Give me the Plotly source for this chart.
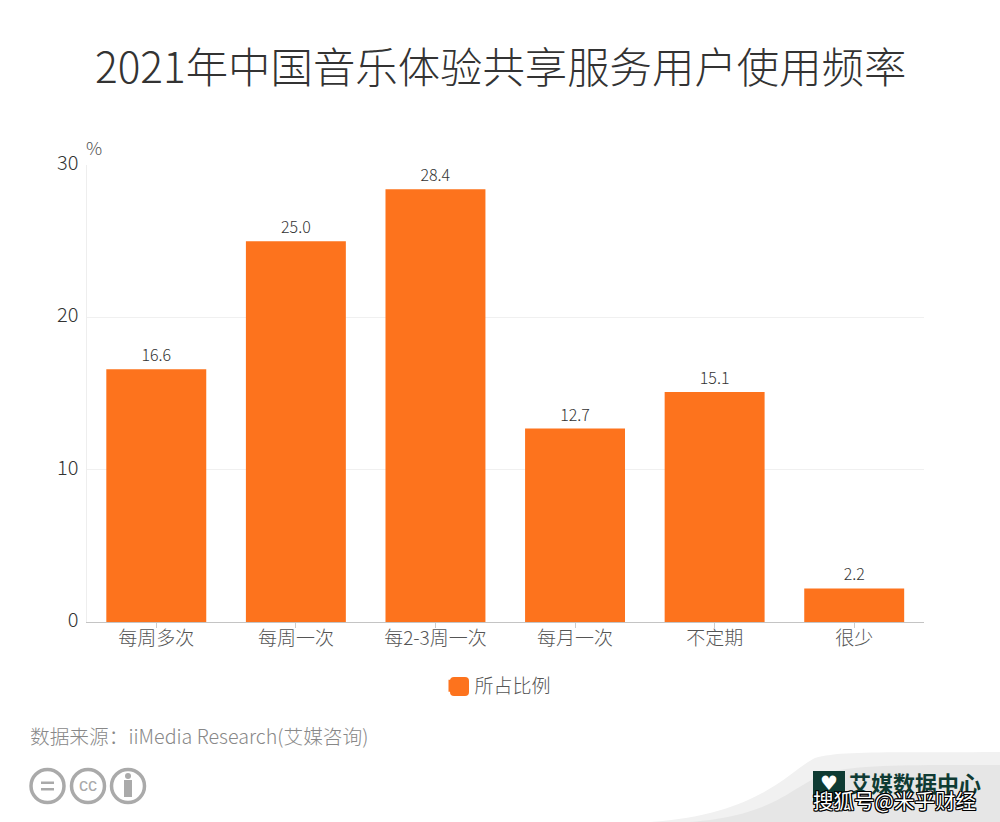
import plotly.graph_objects as go

categories = ["每周多次", "每周一次", "每2-3周一次", "每月一次", "不定期", "很少"]
values = [16.6, 25.0, 28.4, 12.7, 15.1, 2.2]
labels = ["16.6", "25.0", "28.4", "12.7", "15.1", "2.2"]
y_ticks = [0, 10, 20, 30]
series_name = "所占比例"
title = "2021年中国音乐体验共享服务用户使用频率"
source = "数据来源：iiMedia Research(艾媒咨询)"

W, H = 1000, 822
FONT = "Noto Sans CJK SC, Noto Sans, sans-serif"
ORANGE = "#fd731d"
def X(p): return p / W
def Y(p): return 1 - p / H

fig = go.Figure(go.Bar(
    x=categories, y=values, name=series_name, text=labels,
    marker=dict(color=ORANGE, line=dict(width=0)),
    textposition="outside", cliponaxis=False,
    textfont=dict(size=16, color="#333333", family=FONT, weight=300),
    showlegend=True,
))

shapes = [
    # grey corner swoosh
    dict(type="path", xref="paper", yref="paper", layer="below",
         path=f"M {X(650)} {Y(822)} C {X(760)} {Y(815)}, {X(790)} {Y(770)}, {X(815)} {Y(758)} "
              f"C {X(840)} {Y(750)}, {X(900)} {Y(753)}, {X(1000)} {Y(752)} L {X(1000)} {Y(822)} Z",
         fillcolor="#f1f1f1", line=dict(width=0)),
    dict(type="path", xref="paper", yref="paper", layer="below",
         path=f"M {X(690)} {Y(822)} C {X(780)} {Y(815)}, {X(790)} {Y(785)}, {X(830)} {Y(772)} "
              f"C {X(860)} {Y(764)}, {X(930)} {Y(765)}, {X(1000)} {Y(765)} L {X(1000)} {Y(822)} Z",
         fillcolor="#e6e6e6", line=dict(width=0)),
    # logo tile
    dict(type="rect", xref="paper", yref="paper", x0=X(813), x1=X(845), y0=Y(802), y1=Y(771),
         fillcolor="#0f3b33", line=dict(width=0)),
    # rounded legend swatch backing
    dict(type="path", xref="paper", yref="paper",
         path=f"M {X(454)} {Y(677)} L {X(465)} {Y(677)} Q {X(469)} {Y(677)} {X(469)} {Y(681)} "
              f"L {X(469)} {Y(692)} Q {X(469)} {Y(696)} {X(465)} {Y(696)} L {X(454)} {Y(696)} "
              f"Q {X(450)} {Y(696)} {X(450)} {Y(692)} L {X(450)} {Y(681)} Q {X(450)} {Y(677)} {X(454)} {Y(677)} Z",
         fillcolor=ORANGE, line=dict(width=0)),
]
# cc icons
for cx in (47.5, 88, 128):
    shapes.append(dict(type="circle", xref="paper", yref="paper",
                       x0=X(cx - 16.5), x1=X(cx + 16.5), y0=Y(786 + 16.5), y1=Y(786 - 16.5),
                       line=dict(color="#aaaaaa", width=3.5), fillcolor="rgba(0,0,0,0)"))
# equals bars and person
shapes += [
    dict(type="rect", xref="paper", yref="paper", x0=X(41), x1=X(54), y0=Y(784), y1=Y(781.5),
         fillcolor="#aaaaaa", line=dict(width=0)),
    dict(type="rect", xref="paper", yref="paper", x0=X(41), x1=X(54), y0=Y(790.5), y1=Y(788),
         fillcolor="#aaaaaa", line=dict(width=0)),
    dict(type="rect", xref="paper", yref="paper", x0=X(124), x1=X(132), y0=Y(797), y1=Y(780),
         fillcolor="#aaaaaa", line=dict(width=0)),
    dict(type="circle", xref="paper", yref="paper", x0=X(125), x1=X(131), y0=Y(779), y1=Y(773),
         fillcolor="#aaaaaa", line=dict(width=0)),
]

outline = ",".join(f"{a}px {b}px 0 #000" for a in (-1, 0, 1) for b in (-1, 0, 1) if a or b)
annotations = [
    dict(text=title, x=X(500), y=Y(64), xref="paper", yref="paper", showarrow=False,
         xanchor="center", yanchor="middle", font=dict(size=42.4, color="#333333", family=FONT, weight=300)),
    dict(text="%", x=X(94), y=Y(147), xref="paper", yref="paper", showarrow=False,
         xanchor="center", yanchor="middle", font=dict(size=18, color="#555555", family=FONT, weight=300)),
    dict(text=source, x=X(28), y=Y(735), xref="paper", yref="paper", showarrow=False,
         xanchor="left", yanchor="middle", font=dict(size=19.7, color="#888888", family=FONT, weight=300)),
    dict(text="cc", x=X(88), y=Y(785), xref="paper", yref="paper", showarrow=False,
         xanchor="center", yanchor="middle", font=dict(size=18, color="#aaaaaa", family="Liberation Sans")),
    dict(text="<b>艾媒数据中心</b>", x=X(847), y=Y(782), xref="paper", yref="paper", showarrow=False,
         xanchor="left", yanchor="middle", font=dict(size=22, color="#0f3b33", family=FONT)),
    dict(text="♥", x=X(829), y=Y(783), xref="paper", yref="paper", showarrow=False,
         xanchor="center", yanchor="middle", font=dict(size=20, color="#ffffff", family="DejaVu Sans")),
    dict(text="搜狐号@米乎财经", x=X(811), y=Y(800), xref="paper", yref="paper", showarrow=False,
         xanchor="left", yanchor="middle", font=dict(size=20.5, color="#ffffff", family=FONT, shadow=outline)),
]

fig.update_layout(
    width=W, height=H, autosize=False,
    margin=dict(l=0, r=0, t=0, b=0, autoexpand=False),
    paper_bgcolor="#ffffff", plot_bgcolor="#ffffff",
    font=dict(family=FONT),
    bargap=0.284,
    shapes=shapes, annotations=annotations,
    legend=dict(orientation="h", x=X(495.5), y=Y(686), xanchor="center", yanchor="middle",
                font=dict(size=19, color="#555555", family=FONT, weight=300),
                bgcolor="rgba(0,0,0,0)"),
    xaxis=dict(domain=[X(86.5), X(924)], tickfont=dict(size=19, color="#555555", family=FONT, weight=300),
               showline=True, linecolor="#c4c4c4", linewidth=1, ticks="outside", ticklen=5,
               tickcolor="#cccccc", showgrid=False, fixedrange=True, ticklabelstandoff=-6),
    yaxis=dict(domain=[Y(622), Y(165)], range=[0, 30], tickvals=y_ticks,
               tickfont=dict(size=20, color="#333333", family=FONT, weight=300),
               showline=True, linecolor="#eeeeee", linewidth=1, gridcolor="#f0f0f0", gridwidth=1,
               ticks="", zeroline=False, fixedrange=True, ticklabelstandoff=3, ticklabelshift=-2),
)
fig.write_html("out.html", config=dict(displayModeBar=False),
               post_script="document.body.style.margin='0';")
